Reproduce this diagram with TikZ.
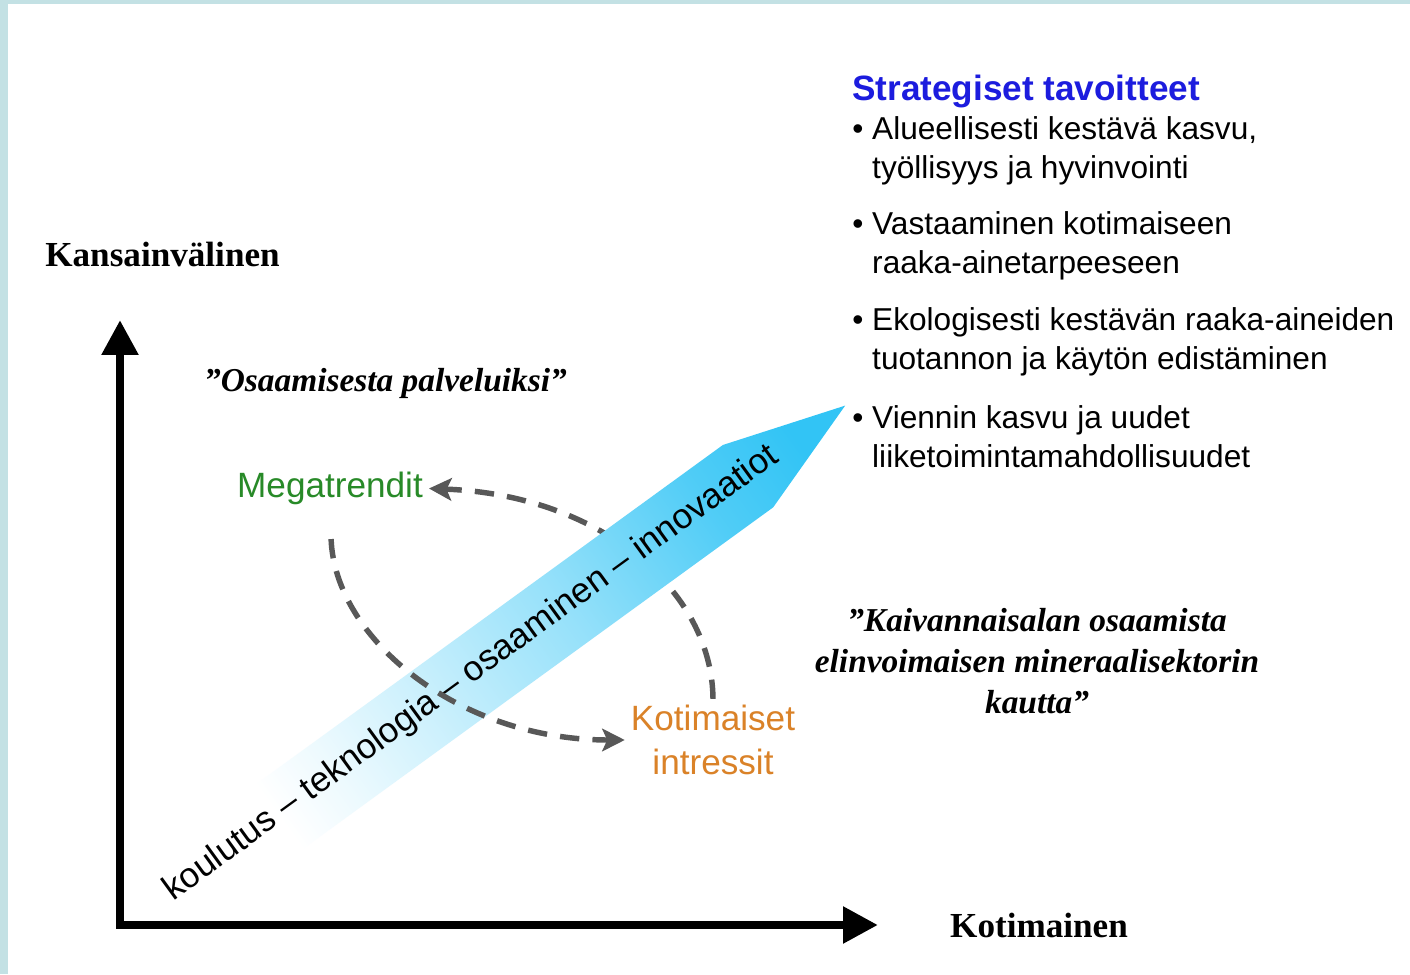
\documentclass[tikz,border=0pt]{standalone}
\usepackage{fontspec}
\setmainfont{Liberation Sans}
\newfontfamily\axisfont{Liberation Serif}
\usetikzlibrary{arrows.meta}

\definecolor{frameblue}{RGB}{195,225,228}
\definecolor{goalblue}{RGB}{28,28,222}
\definecolor{trendgreen}{RGB}{40,138,40}
\definecolor{homeorange}{RGB}{218,130,40}
\definecolor{cyclegray}{RGB}{88,88,88}
\definecolor{bandblue}{RGB}{50,196,245}

\pgfdeclarehorizontalshading{bandfade}{100bp}{color(0bp)=(white); color(28bp)=(white);
    color(34bp)=(bandblue!9!white); color(43bp)=(bandblue!25!white);
    color(57bp)=(bandblue!52!white); color(71bp)=(bandblue!85!white);
    color(80bp)=(bandblue); color(100bp)=(bandblue)}

\tikzset{
    axisarrow/.style={line width=4.8pt, line join=miter,
        {Triangle[length=0.7cm,width=0.7cm]}-{Triangle[length=0.7cm,width=0.7cm]}},
    axislabel/.style={font=\axisfont\bfseries\fontsize{20}{24}\selectfont},
    motto/.style={font=\axisfont\bfseries\itshape\fontsize{19}{23.3}\selectfont, align=center},
    driver/.style={font=\fontsize{20}{25}\selectfont, align=center},
    cyclearrow/.style={cyclegray, line width=3.1pt, dash pattern=on 11pt off 7.5pt,
        -{Stealth[length=0.45cm,width=0.45cm,inset=0.1cm]}},
    goalitem/.style={anchor=west, inner sep=0pt, align=left, font=\fontsize{18}{22.2}\selectfont}
}

\begin{document}
\begin{tikzpicture}
                    \useasboundingbox (0, 0) rectangle (28.2, 19.48);
                    \fill[frameblue] (0, 0) rectangle (28.2, 19.48);
                    \fill[white] (0.16, 0) rectangle (28.2, 19.4);

                    \node[driver, text=trendgreen] (mega) at (6.6, 9.71) {Megatrendit};
                    \node[driver, text=homeorange] (koti) at (14.26, 4.68) {Kotimaiset\\intressit};

                    \draw[cyclearrow] (koti.north) .. controls (14.24, 7.68) and (12.0, 9.58) .. (mega.east);

                    \begin{scope}[shift={(9.46, 5.96)}, rotate=36]
                        \shade[shading=bandfade, shading angle=36]
                            (-7.2, 0.8) -- (6.76, 0.8) -- (9.2, 0) -- (6.84, -0.8) -- (-7.2, -0.8) -- cycle;
                        \node[driver, rotate=36] (chain) at (0, 0.06) {koulutus – teknologia – osaaminen – innovaatiot};
                    \end{scope}

                    \draw[cyclearrow, shorten <=0.56cm] (mega.south) .. controls (6.7, 6.68) and (9.2, 4.68) .. (koti.west);

                    \coordinate (origin) at (2.4, 0.98);
                    \coordinate (ytip) at (2.4, 13.08);
                    \coordinate (xtip) at (17.56, 0.98);
                    \draw[axisarrow] (xtip) -- (origin) -- (ytip);

                    \node[axislabel] (intl) at (3.25, 14.4) {Kansainvälinen};
                    \node[axislabel] (dom) at (20.78, 0.98) {Kotimainen};

                    \node[motto] (service) at (7.71, 11.82) {”Osaamisesta palveluiksi”};
                    \node[motto] (mineral) at (20.74, 6.26) {”Kaivannaisalan osaamista\\elinvoimaisen mineraalisektorin\\kautta”};

                    \node[anchor=west, inner sep=0pt, text=goalblue, font=\bfseries\fontsize{20}{24}\selectfont] (goals) at (17.04, 17.66) {Strategiset tavoitteet};
                    \node[goalitem] (goal1) at (17.04, 16.47) {•~Alueellisesti kestävä kasvu,\\\phantom{•~}työllisyys ja hyvinvointi};
                    \node[goalitem] (goal2) at (17.04, 14.57) {•~Vastaaminen kotimaiseen\\\phantom{•~}raaka-ainetarpeeseen};
                    \node[goalitem] (goal3) at (17.04, 12.65) {•~Ekologisesti kestävän raaka-aineiden\\\phantom{•~}tuotannon ja käytön edistäminen};
                    \node[goalitem] (goal4) at (17.04, 10.74) {•~Viennin kasvu ja uudet\\\phantom{•~}liiketoimintamahdollisuudet};
                \end{tikzpicture}
\end{document}
